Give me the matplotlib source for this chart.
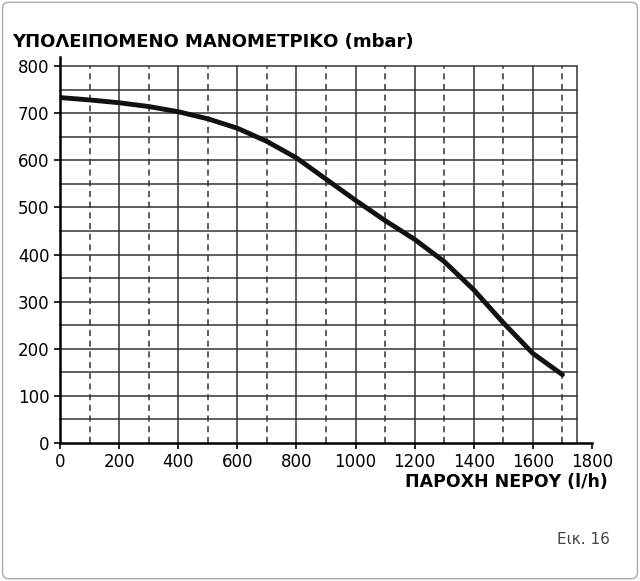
import matplotlib
matplotlib.use("Agg")
import matplotlib.pyplot as plt
from matplotlib.patches import FancyBboxPatch

flow = [0, 100, 200, 300, 400, 500, 600, 700, 800, 900, 1000, 1100, 1200, 1300, 1400, 1500, 1600, 1700]
head = [733, 728, 722, 714, 703, 688, 668, 640, 605, 560, 515, 472, 432, 385, 325, 255, 190, 145]
xticks = [0, 200, 400, 600, 800, 1000, 1200, 1400, 1600, 1800]
yticks = [0, 100, 200, 300, 400, 500, 600, 700, 800]

fig = plt.figure(figsize=(6.4, 5.81), dpi=100)
fig.patches.append(FancyBboxPatch((0.004, 0.004), 0.992, 0.992, boxstyle="round,pad=0,rounding_size=0.01",
                                  transform=fig.transFigure, fill=False, ec="#aaaaaa", lw=1))
W, H = 640, 581
ax = fig.add_axes([60/W, 1-443/H, (592-60)/W, (443-66)/H])
ax.set_xlim(0, 1800); ax.set_ylim(0, 800)
for s in ["top", "right"]:
    ax.spines[s].set_visible(False)
for s in ["left", "bottom"]:
    ax.spines[s].set_linewidth(1.8)
ax.spines["left"].set_bounds(0, 820)
xr = 1750
for y in range(50, 801, 50):
    ax.plot([0, xr], [y, y], color="#333", lw=1.1, clip_on=False)
for x in range(100, 1701, 100):
    ax.plot([x, x], [0, 800], color="#333", lw=1.1, ls="-" if x % 200 == 0 else (0, (4, 3)))
ax.plot([xr, xr], [0, 800], color="#333", lw=1.1)
ax.plot(flow, head, color="#111", lw=3.5, solid_capstyle="round")
ax.set_xticks(xticks); ax.set_yticks(yticks)
ax.tick_params(labelsize=12, length=4, width=1.2)
ax.text(-0.09, 1.04, "ΥΠΟΛΕΙΠΟΜΕΝΟ ΜΑΝΟΜΕΤΡΙΚΟ (mbar)", transform=ax.transAxes, fontsize=13, fontweight="bold", va="bottom")
fig.text(608/W, 1-482/H, "ΠΑΡΟΧΗ ΝΕΡΟΥ (l/h)", fontsize=12.5, fontweight="bold", ha="right", va="center")
fig.text(610/W, 1-540/H, "Εικ. 16", fontsize=11, ha="right", va="center", color="#444")
fig.savefig("out.png", dpi=100)
